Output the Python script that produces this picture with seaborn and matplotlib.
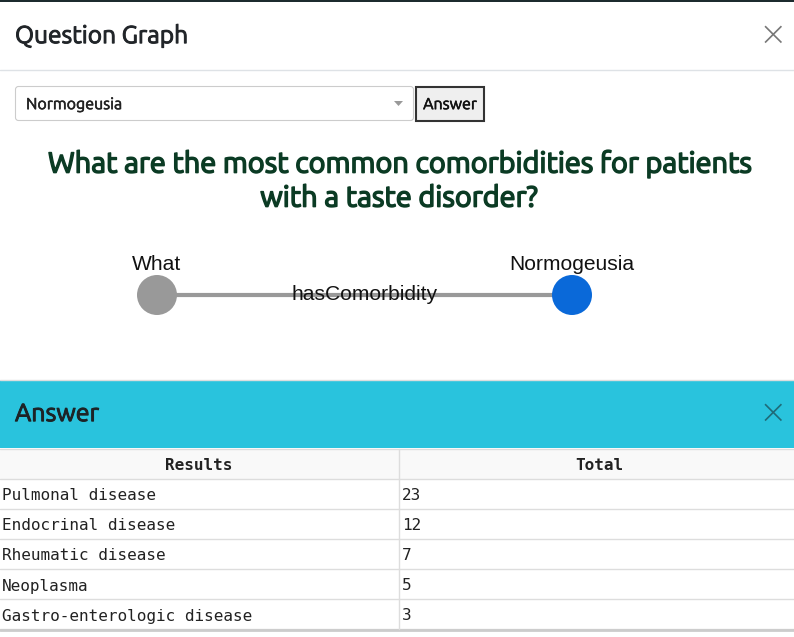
import numpy as np
import pandas as pd
import seaborn as sns
import matplotlib.pyplot as plt
from matplotlib.patches import Rectangle, FancyBboxPatch
from matplotlib import patheffects as pe

# data
selected = "Normogeusia"
question = ["What are the most common comorbidities for patients",
            "with a taste disorder?"]
nodes = ["What", "Normogeusia"]
node_colors = ["#999999", "#0a69d9"]
edge_label = "hasComorbidity"
results = ["Pulmonal disease", "Endocrinal disease", "Rheumatic disease",
           "Neoplasma", "Gastro-enterologic disease"]
totals = [23, 12, 7, 5, 3]

W, H = 794, 637
UI = ["Ubuntu", "Open Sans", "DejaVu Sans"]
MONO = ["DejaVu Sans Mono"]
GRAPH = ["Liberation Sans", "DejaVu Sans"]


def px(v):
    # pixels -> points at dpi 100
    return v * 72 / 100


def heavier(color, w):
    # the installed Ubuntu is light only, so thicken strokes a bit
    return [pe.withStroke(linewidth=w, foreground=color)]


def draw_header(ax):
    ax.add_patch(Rectangle((0, 0), W, 2, color="#1c2b2e", lw=0))
    ax.text(15, 36, "Question Graph", fontsize=px(24.5), family=UI,
            color="#212529", va="center", ha="left",
            path_effects=heavier("#212529", 0.7))
    ax.text(773, 35, "×", fontsize=px(34), family=["DejaVu Sans"],
            color="#777777", va="center", ha="center", fontweight="light")
    ax.plot([0, W], [69.5, 69.5], color="#dee2e6", lw=1)

    # dropdown + button
    ax.add_patch(FancyBboxPatch((15.5, 86.5), 398, 34,
                                boxstyle="round,pad=0,rounding_size=3",
                                fc="white", ec="#cccccc", lw=0.8))
    ax.text(26, 104, selected, fontsize=px(16), family=UI,
            color="#222222", va="center", path_effects=heavier("#222222", 0.4))
    ax.fill([394, 403, 398.5], [101, 101, 106], color="#999999", lw=0)
    ax.add_patch(Rectangle((415.5, 86.5), 68, 34, fc="#efefef",
                           ec="#333333", lw=1.5))
    ax.text(450, 104, "Answer", fontsize=px(16), family=UI,
            color="#111111", va="center", ha="center",
            path_effects=heavier("#111111", 0.4))

    for i, line in enumerate(question):
        ax.text(398.5, 164 + 34 * i, line, fontsize=px(28.9), family=UI,
                color="#0b3b24", va="center", ha="center",
                path_effects=heavier("#0b3b24", 1.1))


def draw_graph(ax):
    layout = {"What": 157, "Normogeusia": 572}
    gy = 295
    df = pd.DataFrame({"node": nodes,
                       "x": [layout[n] for n in nodes],
                       "y": [gy] * len(nodes)})
    sns.lineplot(data=df, x="x", y="y", ax=ax, color="#999999",
                 lw=3, sort=False, legend=False)
    sns.scatterplot(data=df, x="x", y="y", hue="node", palette=node_colors,
                    s=(2 * px(20)) ** 2, linewidth=0, ax=ax, legend=False,
                    zorder=3)
    for _, r in df.iterrows():
        ax.text(r["x"], 264, r["node"], fontsize=px(21), family=GRAPH,
                color="#111111", va="center", ha="center", zorder=4)
    ax.text(df["x"].mean(), 295, edge_label, fontsize=px(21),
            family=GRAPH, color="#111111", va="center", ha="center", zorder=4)


def draw_answer(ax):
    ax.plot([0, W], [379.5, 379.5], color="#dddddd", lw=1)
    ax.add_patch(Rectangle((0, 380), W, 68, color="#29c3dd", lw=0))
    ax.text(15, 414, "Answer", fontsize=px(25), family=UI,
            color="#1d2326", va="center", ha="left",
            path_effects=heavier("#1d2326", 0.7))
    ax.text(773, 413, "×", fontsize=px(34), family=["DejaVu Sans"],
            color="#1f6b78", va="center", ha="center", fontweight="light")

    top, rh, mid = 449, 30, 399
    fs = px(16)
    ax.add_patch(Rectangle((0, top), W, rh, color="#f9f9f9", lw=0))
    ax.text(199, top + 16, "Results", fontsize=fs, family=MONO,
            fontweight="bold", color="#222222", va="center", ha="center")
    ax.text(599, top + 16, "Total", fontsize=fs, family=MONO,
            fontweight="bold", color="#222222", va="center", ha="center")
    n = len(results)
    for i in range(n + 1):
        y = top + rh * (i + 1) - 0.5
        ax.plot([0, W], [y, y], color="#dddddd", lw=1)
    ax.plot([0, W], [top - 0.5, top - 0.5], color="#dddddd", lw=1)
    ax.plot([0, W], [top + rh * (n + 1) + 1, top + rh * (n + 1) + 1],
            color="#cccccc", lw=2)
    ax.plot([mid, mid], [top, top + rh * (n + 1)], color="#dddddd", lw=1)
    for i, (name, tot) in enumerate(zip(results, totals)):
        y = top + rh * (i + 1) + 17
        ax.text(2, y, name, fontsize=fs, family=MONO, color="#222222",
                va="center", ha="left")
        ax.text(402, y, str(tot), fontsize=fs, family=MONO,
                color="#222222", va="center", ha="left")


def main():
    sns.set_theme(style="white")
    fig = plt.figure(figsize=(W / 100, H / 100), dpi=100)
    ax = fig.add_axes([0, 0, 1, 1])
    ax.set_xlim(0, W)
    ax.set_ylim(H, 0)
    ax.axis("off")
    draw_header(ax)
    draw_graph(ax)
    draw_answer(ax)
    ax.set_xlim(0, W)
    ax.set_ylim(H, 0)
    fig.savefig("out.png", dpi=100, facecolor="white")


if __name__ == "__main__":
    main()
